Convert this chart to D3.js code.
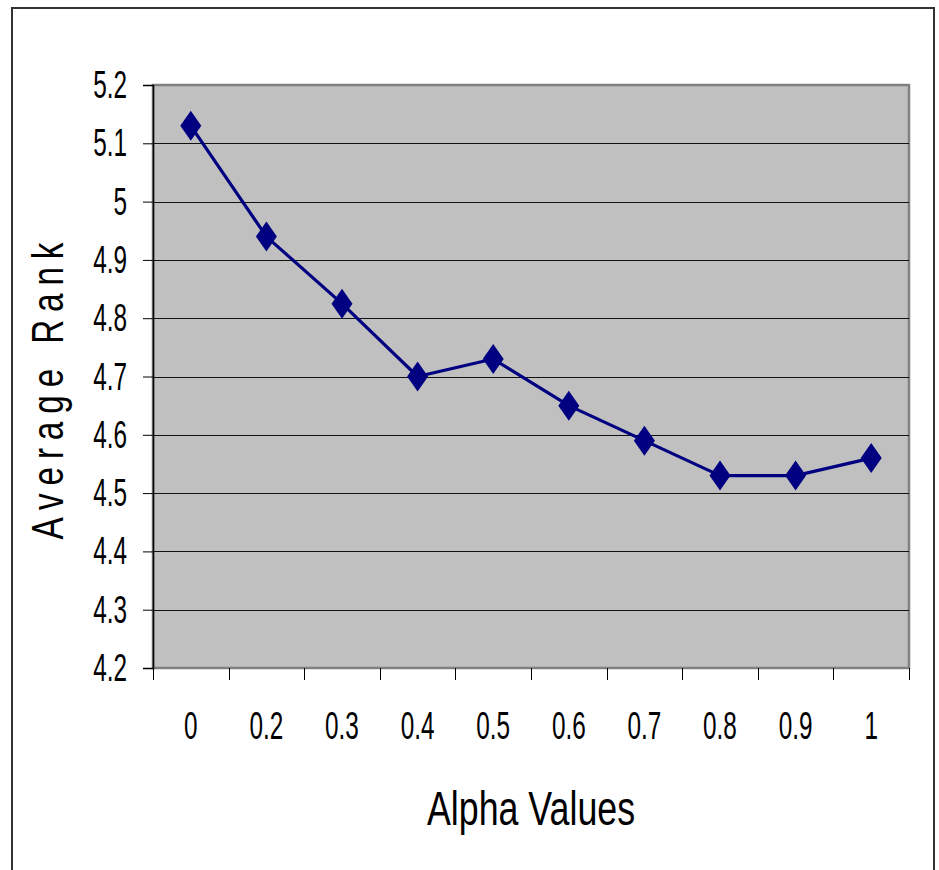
<!DOCTYPE html>
<html>
<head>
<meta charset="utf-8">
<script src="https://cdn.jsdelivr.net/npm/d3@7"></script>
<style>
  html, body { margin: 0; padding: 0; background: #ffffff; }
  svg { display: block; }
  text { font-family: "Liberation Sans", Arial, sans-serif; fill: #000; }
</style>
</head>
<body>
<svg id="chart" width="939" height="870"></svg>
<script>
// Average rank for each alpha setting
const categories = ["0", "0.2", "0.3", "0.4", "0.5", "0.6", "0.7", "0.8", "0.9", "1"];
const avgRank = [5.13, 4.94, 4.825, 4.70, 4.73, 4.65, 4.59, 4.53, 4.53, 4.56];
const yTicks = [4.2, 4.3, 4.4, 4.5, 4.6, 4.7, 4.8, 4.9, 5.0, 5.1, 5.2];
const yTickLabels = ["4.2", "4.3", "4.4", "4.5", "4.6", "4.7", "4.8", "4.9", "5", "5.1", "5.2"];
const xTitle = "Alpha Values";
const yTitle = "Average Rank";

const svg = d3.select("#chart");
const W = 939, H = 870;
const plot = { left: 153, top: 85, right: 909, bottom: 668 };

// outer chart frame (runs past the bottom edge)
svg.append("rect")
  .attr("x", 12).attr("y", 8)
  .attr("width", 922).attr("height", H + 10)
  .attr("fill", "#fff").attr("stroke", "#333").attr("stroke-width", 2);

const x = d3.scaleBand().domain(categories).range([plot.left, plot.right]).padding(0);
const y = d3.scaleLinear().domain([4.2, 5.2]).range([plot.bottom, plot.top]);
const cx = d => x(d) + x.bandwidth() / 2;

// plot area
svg.append("rect")
  .attr("x", plot.left).attr("y", plot.top)
  .attr("width", plot.right - plot.left).attr("height", plot.bottom - plot.top)
  .attr("fill", "#c0c0c0").attr("stroke", "#808080").attr("stroke-width", 2.5);

// horizontal gridlines
svg.append("g").selectAll("line")
  .data(yTicks.filter(v => v > 4.2 && v < 5.2))
  .join("line")
  .attr("x1", plot.left).attr("x2", plot.right)
  .attr("y1", d => Math.round(y(d)) + 0.5).attr("y2", d => Math.round(y(d)) + 0.5)
  .attr("stroke", "#111").attr("stroke-width", 1);

// y axis
const yAxis = d3.axisLeft(y).tickValues(yTicks).tickSize(10).tickFormat("");
const gy = svg.append("g").attr("transform", `translate(${plot.left},0)`).call(yAxis);
gy.select(".domain").attr("stroke", "#000").attr("stroke-width", 1.5);
gy.selectAll(".tick line").attr("stroke", "#000");

// x axis with ticks on the category boundaries
const boundaries = categories.map(c => x(c)).concat([plot.right]);
const gx = svg.append("g");
gx.selectAll("line")
  .data(boundaries)
  .join("line")
  .attr("x1", d => Math.round(d) + 0.5).attr("x2", d => Math.round(d) + 0.5)
  .attr("y1", plot.bottom).attr("y2", plot.bottom + 12)
  .attr("stroke", "#000").attr("stroke-width", 1);

// condensed tick labels
const labelSize = 38, labelSX = 0.64;
svg.append("g").selectAll("text")
  .data(categories)
  .join("text")
  .attr("transform", d => `translate(${cx(d)},739) scale(${labelSX},1)`)
  .attr("text-anchor", "middle")
  .attr("font-size", labelSize)
  .text(d => d);

svg.append("g").selectAll("text")
  .data(yTicks)
  .join("text")
  .attr("transform", (d) => `translate(127,${y(d) + 13}) scale(${labelSX},1)`)
  .attr("text-anchor", "end")
  .attr("font-size", labelSize)
  .text((d, i) => yTickLabels[i]);

// series line
const line = d3.line().x((d, i) => cx(categories[i])).y(d => y(d));
svg.append("path")
  .datum(avgRank)
  .attr("d", line)
  .attr("fill", "none")
  .attr("stroke", "#000080")
  .attr("stroke-width", 3.2)
  .attr("stroke-linejoin", "round");

// diamond markers
svg.append("g").selectAll("path")
  .data(avgRank)
  .join("path")
  .attr("transform", (d, i) => `translate(${cx(categories[i])},${y(d)})`)
  .attr("d", "M0,-15L10.5,0L0,15L-10.5,0Z")
  .attr("fill", "#000080");

// x axis title
svg.append("text")
  .attr("transform", `translate(${(plot.left + plot.right) / 2},825) scale(0.73,1)`)
  .attr("text-anchor", "middle")
  .attr("font-size", 49)
  .text(xTitle);

// y axis title: rotated, condensed glyphs with wide letter spacing
const ySX = 0.74, yTarget = 297;
const yt = svg.append("g")
  .attr("transform", `translate(63,${391})rotate(-90)scale(${ySX},1)`)
  .append("text")
  .attr("font-size", 45)
  .attr("text-anchor", "start")
  .text(yTitle);
const natural = yt.node().getComputedTextLength();
const n = yTitle.length;
const spacing = (yTarget / ySX - natural) / (n - 1);
yt.attr("letter-spacing", spacing);
yt.attr("x", -(natural + spacing * (n - 1)) / 2);
</script>
</body>
</html>
